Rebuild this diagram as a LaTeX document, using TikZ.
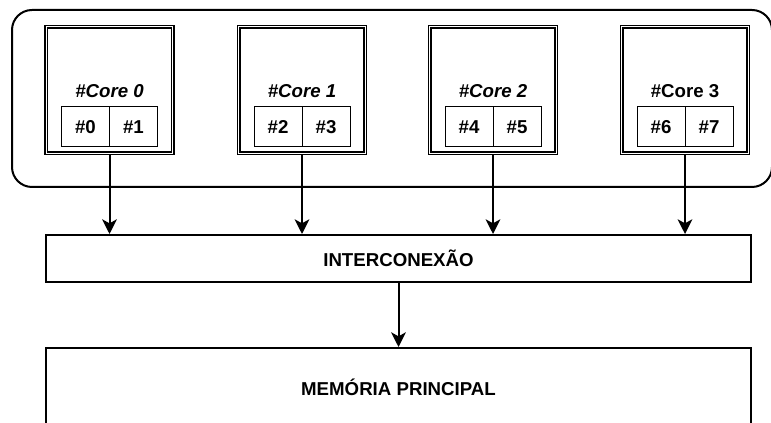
\documentclass[tikz,border=0pt]{standalone}
\usepackage{fontspec}
\setmainfont{Liberation Sans}
\usetikzlibrary{positioning,arrows.meta}

\begin{document}
\begin{tikzpicture}
[
x=0.75pt, y=-0.75pt,
font=\fontsize{14}{16}\selectfont\bfseries,
group-a/.style={draw, line width=1.5pt, rounded corners=15pt, minimum width=570pt, minimum height=132.75pt, inner sep=0pt},
core-a/.style={draw, double, double distance=0.6pt, line width=1.1pt, minimum width=95pt, minimum height=95pt, inner sep=0pt},
cell-a/.style={draw, line width=0.75pt, minimum width=36pt, minimum height=30pt, inner sep=0pt, outer sep=0pt},
bus-a/.style={draw, line width=1.5pt, minimum width=528.75pt, minimum height=35.25pt, inner sep=0pt},
mem-a/.style={draw, line width=1.5pt, minimum width=528.75pt, minimum height=58.5pt, inner sep=0pt},
text-a/.style={black, inner sep=0pt},
arrow-a/.style={line width=1.5pt, -{Stealth[length=11pt, width=11pt, inset=3pt]}}
]
\useasboundingbox (0,0) rectangle (771,423);
\clip (0,0) rectangle (771,423);

\node (cpu)       [group-a] at (392,98.5) {};

\node (core-0)    [core-a]  at (109.5,90) {};
\node (core-0-id) [text-a]  at (109.5,91) {\itshape \#Core 0};
\node (cell-0)    [cell-a]  at (85.5,127) {\#0};
\node (cell-1)    [cell-a, right = 0mm of cell-0] {\#1};

\node (core-1)    [core-a]  at (302,90) {};
\node (core-1-id) [text-a]  at (302,91) {\itshape \#Core 1};
\node (cell-2)    [cell-a]  at (278,127) {\#2};
\node (cell-3)    [cell-a, right = 0mm of cell-2] {\#3};

\node (core-2)    [core-a]  at (493,90) {};
\node (core-2-id) [text-a]  at (493,91) {\itshape \#Core 2};
\node (cell-4)    [cell-a]  at (469,127) {\#4};
\node (cell-5)    [cell-a, right = 0mm of cell-4] {\#5};

\node (core-3)    [core-a]  at (685,90) {};
\node (core-3-id) [text-a]  at (685,91) {\#Core 3};
\node (cell-6)    [cell-a]  at (661,127) {\#6};
\node (cell-7)    [cell-a, right = 0mm of cell-6] {\#7};

\node (inter)     [bus-a]   at (398.5,258.5) {INTERCONEX\~AO};
\node (mem)       [mem-a]   at (398.5,387) {MEM\'ORIA PRINCIPAL};

\draw[arrow-a] (core-0.south) -- (core-0.south |- inter.north);
\draw[arrow-a] (core-1.south) -- (core-1.south |- inter.north);
\draw[arrow-a] (core-2.south) -- (core-2.south |- inter.north);
\draw[arrow-a] (core-3.south) -- (core-3.south |- inter.north);
\draw[arrow-a] (inter.south) -- (mem.north);
\end{tikzpicture}
\end{document}
